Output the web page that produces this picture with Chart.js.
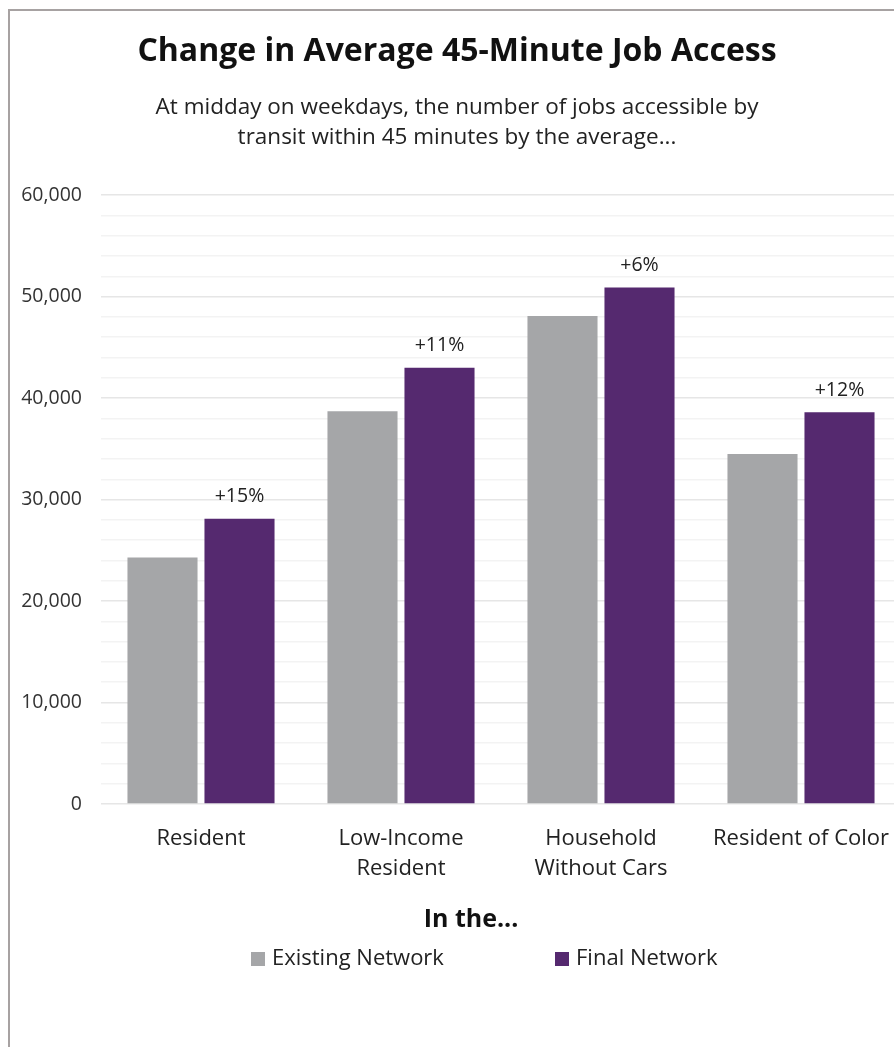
<!DOCTYPE html>
<html>
<head>
<meta charset="utf-8">
<script src="https://cdn.jsdelivr.net/npm/chart.js@4.4.1/dist/chart.umd.min.js"></script>
<style>
  html, body { margin: 0; padding: 0; background: #fff; overflow: hidden; width: 894px; height: 1047px; }
  #frame { position: absolute; left: 8px; top: 9px; width: 920px; height: 1100px; border-left: 2px solid #a7a2a2; border-top: 2px solid #a7a2a2; }
  #c { position: absolute; left: 0; top: 0; }
</style>
</head>
<body>
<div id="frame"></div>
<canvas id="c" width="920" height="1047"></canvas>
<script>
const categories = [["Resident"], ["Low-Income", "Resident"], ["Household", "Without Cars"], ["Resident of Color"]];
const seriesNames = ["Existing Network", "Final Network"];
const existingValues = [24300, 38700, 48100, 34500];
const finalValues = [28100, 43000, 50900, 38600];
const changeLabels = ["+15%", "+11%", "+6%", "+12%"];
const yMajorTicks = [0, 10000, 20000, 30000, 40000, 50000, 60000];
const titleText = "Change in Average 45-Minute Job Access";
const subtitleLines = ["At midday on weekdays, the number of jobs accessible by", "transit within 45 minutes by the average..."];
const legendTitle = "In the...";

const GRAY = '#a5a6a8';
const PURPLE = '#55296f';
const FONT = '"Open Sans", Lato, sans-serif';

const changeLabelPlugin = {
  id: 'changeLabels',
  afterDatasetsDraw(chart) {
    const ctx = chart.ctx;
    const meta = chart.getDatasetMeta(1);
    ctx.save();
    ctx.font = '19.5px ' + FONT;
    ctx.fillStyle = '#222';
    ctx.textAlign = 'center';
    ctx.textBaseline = 'middle';
    meta.data.forEach((bar, i) => {
      ctx.fillText(changeLabels[i], bar.x, bar.y - 22);
    });
    ctx.restore();
  }
};

const customLegend = {
  id: 'customLegend',
  afterDraw(chart) {
    const ctx = chart.ctx;
    const area = chart.chartArea;
    ctx.save();
    ctx.fillStyle = '#111';
    ctx.font = 'bold 25px ' + FONT;
    ctx.textAlign = 'center';
    ctx.textBaseline = 'middle';
    ctx.fillText(legendTitle, 471, area.bottom + 116);
    ctx.font = '22px ' + FONT;
    ctx.textAlign = 'left';
    const y = area.bottom + 155;
    const starts = [251, 555];
    chart.data.datasets.forEach((ds, i) => {
      ctx.fillStyle = ds.backgroundColor;
      ctx.fillRect(starts[i], y - 7, 14, 14);
      ctx.fillStyle = '#222';
      ctx.fillText(ds.label, starts[i] + 21, y);
    });
    ctx.restore();
  }
};

new Chart(document.getElementById('c'), {
  type: 'bar',
  data: {
    labels: categories,
    datasets: [
      { label: seriesNames[0], data: existingValues, backgroundColor: GRAY },
      { label: seriesNames[1], data: finalValues, backgroundColor: PURPLE }
    ]
  },
  options: {
    responsive: false,
    animation: false,
    devicePixelRatio: 1,
    categoryPercentage: 0.77,
    barPercentage: 0.91,
    layout: { padding: { left: 13, right: 19, top: 0, bottom: 140 } },
    plugins: {
      legend: { display: false },
      tooltip: { enabled: false },
      title: {
        display: true, text: titleText, color: '#111',
        font: { family: FONT, size: 32, weight: 'bold', lineHeight: 1.2 },
        padding: { top: 33, bottom: 21 }
      },
      subtitle: {
        display: true, text: subtitleLines, color: '#222',
        font: { family: FONT, size: 22.5, lineHeight: 1.35 },
        padding: { top: 0, bottom: 42 }
      }
    },
    scales: {
      x: {
        grid: { display: false },
        border: { display: false },
        ticks: { color: '#222', font: { family: FONT, size: 22, lineHeight: 1.4 }, padding: 11, maxRotation: 0, autoSkip: false },
        afterFit(scale) { scale.height = 103; }
      },
      y: {
        min: 0, max: 60000,
        border: { display: false },
        grid: {
          drawTicks: false,
          color: (c) => (yMajorTicks.includes(c.tick.value) ? '#e6e6e6' : '#f3f3f3'),
          lineWidth: 1.5
        },
        ticks: {
          stepSize: 2000, autoSkip: false, padding: 19, color: '#333',
          font: { family: FONT, size: 19.5 },
          callback: (v) => (yMajorTicks.includes(v) ? v.toLocaleString('en-US') : '')
        },
        afterFit(scale) { scale.width = 88; }
      }
    }
  },
  plugins: [changeLabelPlugin, customLegend]
});
</script>
</body>
</html>
